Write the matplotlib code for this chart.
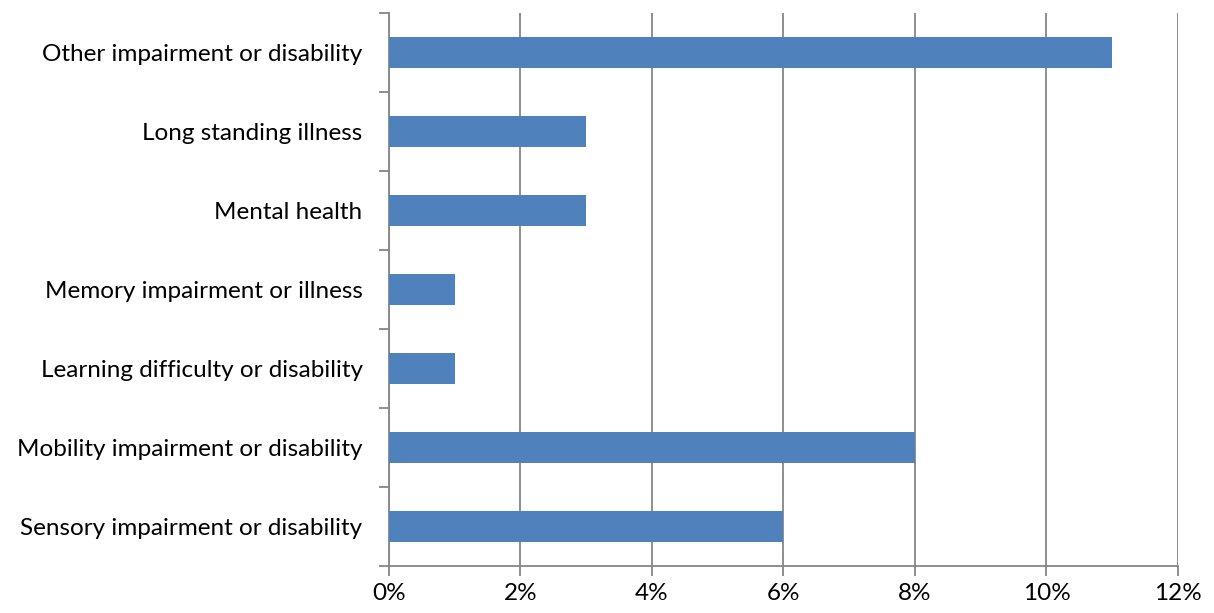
import matplotlib
matplotlib.use("Agg")
import matplotlib.pyplot as plt
from matplotlib.ticker import FixedLocator, FuncFormatter

categories = [
    "Sensory impairment or disability",
    "Mobility impairment or disability",
    "Learning difficulty or disability",
    "Memory impairment or illness",
    "Mental health",
    "Long standing illness",
    "Other impairment or disability",
]
values = [6, 8, 1, 1, 3, 3, 11]
xticks = [0, 2, 4, 6, 8, 10, 12]

plt.rcParams['font.family'] = ['Lato', 'DejaVu Sans']

fig = plt.figure(figsize=(12.14, 6.13), dpi=100)
ax = fig.add_axes([0.3204, 0.0767, 0.6499, 0.9021])

pos = list(range(len(categories)))
ax.barh(pos, values, height=0.4, color="#4F81BD", zorder=3)

ax.set_xlim(0, 12)
ax.set_ylim(-0.5, len(categories) - 0.5)
ax.set_xticks(xticks)
ax.xaxis.set_major_formatter(FuncFormatter(lambda v, p: f"{int(v)}%"))
ax.set_yticks(pos)
ax.set_yticklabels(categories)
ax.yaxis.set_minor_locator(FixedLocator([p - 0.5 for p in range(len(categories) + 1)]))

gray = "#868686"
ax.grid(axis="x", color=gray, linewidth=1.3, zorder=0)
for s in ["top", "right"]:
    ax.spines[s].set_visible(False)
for s in ["left", "bottom"]:
    ax.spines[s].set_color(gray)
    ax.spines[s].set_linewidth(1.3)

ax.tick_params(axis="y", which="major", length=0, pad=19, labelsize=17.5, colors="black")
ax.tick_params(axis="y", which="minor", length=7, width=1.3, color=gray, direction="out")
ax.tick_params(axis="x", which="major", length=7, width=1.3, color=gray, pad=5, labelsize=17.5, labelcolor="black")

fig.savefig("out.png", dpi=100)
